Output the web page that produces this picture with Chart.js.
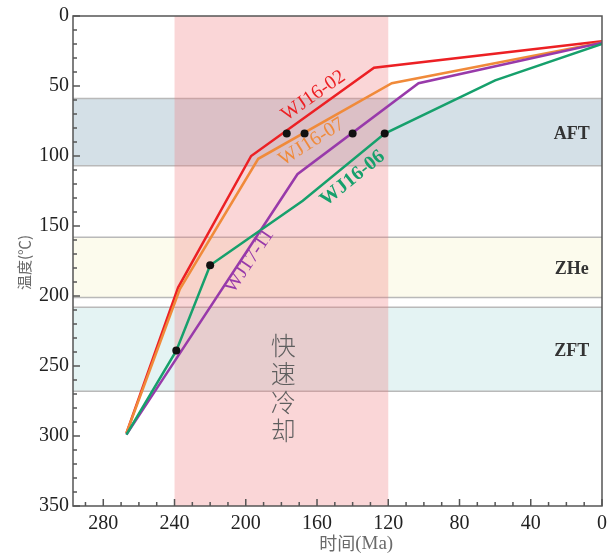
<!DOCTYPE html>
<html>
<head>
<meta charset="utf-8">
<script src="https://cdn.jsdelivr.net/npm/chart.js@4.4.1/dist/chart.umd.min.js"></script>
<style>
  html, body { margin: 0; padding: 0; background: #fff; }
  #chart { display: block; }
</style>
</head>
<body>
<canvas id="chart" width="616" height="554"></canvas>
<script>
// tick labels
const xTicks = [280, 240, 200, 160, 120, 80, 40, 0];
const yTicks = [0, 50, 100, 150, 200, 250, 300, 350];

// thermal histories (time Ma, temperature C)
const wj1602Time = [267, 238, 197, 128, 0];
const wj1602Temp = [298, 194, 100, 37, 18];
const wj1607Time = [267, 237, 193, 118, 0];
const wj1607Temp = [298, 195, 102, 48, 19];
const wj1711Time = [267, 171, 103, 0];
const wj1711Temp = [299, 113, 48, 19];
const wj1606Time = [267, 239, 220, 168, 122, 60, 0];
const wj1606Temp = [299, 239, 178, 132, 84, 46, 20];

// constraint points
const dotTime = [177, 167, 140, 122, 220, 239];
const dotTemp = [84, 84, 84, 84, 178, 239];

// closure temperature windows
const bandNames = ['AFT', 'ZHe', 'ZFT'];
const bandTop = [59, 158, 208];
const bandBottom = [107, 201, 268];

// rapid cooling period
const coolingFrom = 240;
const coolingTo = 120;
const coolingLabel = '快速冷却';

const pts = (xs, ys) => xs.map((v, i) => ({ x: v, y: ys[i] }));

const RED = 'rgb(236,32,36)';
const ORANGE = 'rgb(240,138,58)';
const PURPLE = 'rgb(152,58,170)';
const GREEN = 'rgb(22,160,108)';
const SERIF = '"Liberation Serif", "DejaVu Serif", serif';
const CJK = '"Noto Sans CJK SC", sans-serif';

function line(label, xs, ys, color) {
  return {
    label: label,
    data: pts(xs, ys),
    showLine: true,
    borderColor: color,
    backgroundColor: color,
    borderWidth: 2.5,
    pointRadius: 0,
    tension: 0
  };
}

const decor = {
  id: 'decor',
  beforeDatasetsDraw(chart) {
    const { ctx, chartArea: a, scales: { x, y } } = chart;
    ctx.save();
    const fills = ['rgb(212,224,231)', 'rgb(252,251,237)', 'rgb(228,243,243)'];
    bandNames.forEach((n, i) => {
      const y0 = y.getPixelForValue(bandTop[i]);
      const y1 = y.getPixelForValue(bandBottom[i]);
      ctx.fillStyle = fills[i];
      ctx.fillRect(a.left, y0, a.width, y1 - y0);
      ctx.strokeStyle = 'rgb(185,185,185)';
      ctx.lineWidth = 1.5;
      ctx.beginPath();
      ctx.moveTo(a.left, y0); ctx.lineTo(a.right, y0);
      ctx.moveTo(a.left, y1); ctx.lineTo(a.right, y1);
      ctx.stroke();
    });
    // pink rapid cooling column
    const x0 = x.getPixelForValue(coolingFrom);
    const x1 = x.getPixelForValue(coolingTo);
    ctx.fillStyle = 'rgba(238,118,122,0.30)';
    ctx.fillRect(x0, a.top, x1 - x0, a.height);

    // band names
    ctx.fillStyle = '#333';
    ctx.font = 'bold 18px ' + SERIF;
    ctx.textAlign = 'center';
    ctx.textBaseline = 'middle';
    bandNames.forEach((n, i) => {
      const cy = y.getPixelForValue((bandTop[i] + bandBottom[i]) / 2);
      ctx.fillText(n, x.getPixelForValue(17), cy + 2);
    });

    // vertical label
    ctx.fillStyle = '#5e5e5e';
    ctx.font = '300 25px ' + CJK;
    const cx = x.getPixelForValue(179);
    [...coolingLabel].forEach((ch, i) => {
      ctx.fillText(ch, cx, y.getPixelForValue(235) + i * 28.5);
    });
    ctx.restore();
  },
  afterDatasetsDraw(chart) {
    const { ctx, scales: { x, y } } = chart;
    const labels = [
      ['WJ16-02', 162, 57, -35, RED, ''],
      ['WJ16-07', 163, 90, -32, ORANGE, ''],
      ['WJ16-06', 140, 116, -39, GREEN, 'bold '],
      ['WJ17-11', 198, 175, -56, PURPLE, '']
    ];
    ctx.save();
    ctx.textAlign = 'center';
    ctx.textBaseline = 'middle';
    labels.forEach(l => {
      ctx.save();
      ctx.translate(x.getPixelForValue(l[1]), y.getPixelForValue(l[2]));
      ctx.rotate(l[3] * Math.PI / 180);
      ctx.fillStyle = l[4];
      ctx.font = l[5] + '20px ' + SERIF;
      ctx.fillText(l[0], 0, 0);
      ctx.restore();
    });
    ctx.restore();
  },
  afterDraw(chart) {
    const { ctx, chartArea: a, scales: { x, y } } = chart;
    ctx.save();
    ctx.strokeStyle = '#555';
    ctx.lineWidth = 1.5;
    ctx.strokeRect(a.left, a.top, a.width, a.height);
    // inward ticks
    ctx.beginPath();
    for (let v = 0; v <= 290; v += 10) {
      const px = x.getPixelForValue(v);
      const len = v % 40 === 0 ? 7 : 4;
      ctx.moveTo(px, a.bottom); ctx.lineTo(px, a.bottom - len);
    }
    for (let v = 0; v <= 350; v += 10) {
      const py = y.getPixelForValue(v);
      const len = v % 50 === 0 ? 7 : 4;
      ctx.moveTo(a.left, py); ctx.lineTo(a.left + len, py);
    }
    ctx.stroke();

    // axis titles
    ctx.fillStyle = '#6a6a6a';
    ctx.textBaseline = 'middle';
    const tx = x.getPixelForValue(138);
    ctx.font = '18px ' + CJK;
    const cn = '时间';
    const en = '(Ma)';
    const w1 = ctx.measureText(cn).width;
    ctx.font = '19px ' + SERIF;
    const w2 = ctx.measureText(en).width;
    const start = tx - (w1 + w2) / 2;
    ctx.textAlign = 'left';
    ctx.font = '18px ' + CJK;
    ctx.fillText(cn, start, 543);
    ctx.font = '19px ' + SERIF;
    ctx.fillText(en, start + w1, 544);

    ctx.textAlign = 'center';
    ctx.translate(24, y.getPixelForValue(176));
    ctx.rotate(-Math.PI / 2);
    ctx.font = '15px ' + CJK;
    ctx.fillText('温度(℃)', 0, 0);
    ctx.restore();
  }
};

new Chart(document.getElementById('chart'), {
  type: 'scatter',
  data: {
    datasets: [
      {
        label: 'points',
        data: pts(dotTime, dotTemp),
        pointRadius: 4,
        pointBackgroundColor: '#111',
        pointBorderWidth: 0,
        showLine: false
      },
      line('WJ16-06', wj1606Time, wj1606Temp, GREEN),
      line('WJ17-11', wj1711Time, wj1711Temp, PURPLE),
      line('WJ16-07', wj1607Time, wj1607Temp, ORANGE),
      line('WJ16-02', wj1602Time, wj1602Temp, RED)
    ]
  },
  options: {
    responsive: false,
    animation: false,
    layout: { padding: { top: 14, right: 14, left: 0, bottom: 0 } },
    plugins: { legend: { display: false }, tooltip: { enabled: false } },
    scales: {
      x: {
        type: 'linear',
        reverse: true,
        min: 0,
        max: 297,
        grid: { display: false, drawTicks: false },
        border: { display: false },
        afterBuildTicks: s => { s.ticks = xTicks.map(v => ({ value: v })); },
        afterFit: s => { s.height = 48; },
        ticks: {
          padding: 6,
          maxRotation: 0,
          color: '#222',
          font: { family: SERIF, size: 20 }
        }
      },
      y: {
        type: 'linear',
        reverse: true,
        min: 0,
        max: 350,
        grid: { display: false, drawTicks: false },
        border: { display: false },
        afterBuildTicks: s => { s.ticks = yTicks.map(v => ({ value: v })); },
        afterFit: s => { s.width = 73; },
        ticks: {
          padding: 4,
          color: '#222',
          font: { family: SERIF, size: 20 }
        }
      }
    }
  },
  plugins: [decor]
});
</script>
</body>
</html>
